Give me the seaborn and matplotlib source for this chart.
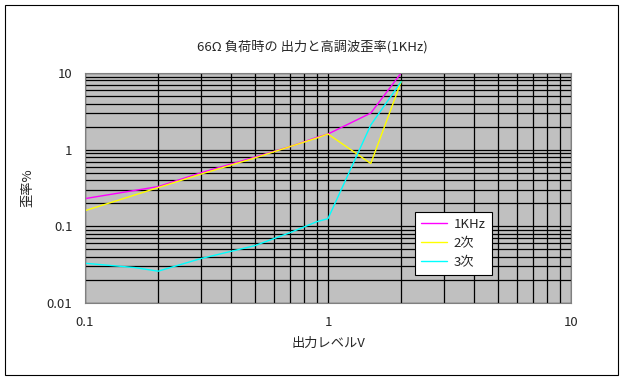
import pandas as pd
import seaborn as sns
import matplotlib.pyplot as plt
from matplotlib.patches import Rectangle

# readings (output level V vs distortion %)
x_1k = [0.1, 0.2, 0.3, 0.5, 0.7, 0.9, 1.0, 1.5, 2.0]
y_1k = [0.23, 0.33, 0.5, 0.8, 1.1, 1.45, 1.6, 3.0, 10.0]
x_2nd = [0.1, 0.2, 0.3, 0.5, 0.7, 0.9, 1.0, 1.5, 2.0]
y_2nd = [0.16, 0.32, 0.48, 0.78, 1.1, 1.42, 1.6, 0.66, 7.7]
x_3rd = [0.1, 0.16, 0.2, 0.3, 0.5, 0.7, 0.9, 1.0, 1.5, 2.0]
y_3rd = [0.033, 0.029, 0.026, 0.038, 0.056, 0.083, 0.115, 0.126, 2.1, 7.7]
series = ["1KHz", "2次", "3次"]
colors = ["#FF00FF", "#FFFF00", "#00FFFF"]

df = pd.concat([
    pd.DataFrame({"x": x_1k, "y": y_1k, "s": series[0]}),
    pd.DataFrame({"x": x_2nd, "y": y_2nd, "s": series[1]}),
    pd.DataFrame({"x": x_3rd, "y": y_3rd, "s": series[2]}),
])

sns.set_style("white")
plt.rcParams['font.family'] = ['Noto Sans CJK JP', 'DejaVu Sans']

fig = plt.figure(figsize=(6.24, 3.81), dpi=100)
ax = fig.add_axes([85/624, 1-303/381, 486/624, 230/381])
ax.set_facecolor("#C0C0C0")

sns.lineplot(data=df, x="x", y="y", hue="s", hue_order=series,
             palette=colors, linewidth=1, sort=False, ax=ax)

ax.set_xscale("log")
ax.set_yscale("log")
ax.set_xlim(0.1, 10)
ax.set_ylim(0.01, 10)
ax.set_xticks([0.1, 1, 10])
ax.set_xticklabels(["0.1", "1", "10"])
ax.set_yticks([0.01, 0.1, 1, 10])
ax.set_yticklabels(["0.01", "0.1", "1", "10"])
ax.grid(True, which="both", color="black", linewidth=0.9)
ax.set_axisbelow(True)
ax.tick_params(which="both", length=0, labelsize=9.5, pad=9)
for sp in ax.spines.values():
    sp.set_color("#808080")
    sp.set_linewidth(0.8)

ax.set_xlabel("出力レベルV", fontsize=9.5, labelpad=6)
ax.set_ylabel("歪率%", fontsize=9.5, labelpad=9)
fig.text(0.5, 1-47/381, "66Ω 負荷時の 出力と高調波歪率(1KHz)",
         ha="center", va="center", fontsize=9.5)

leg = ax.legend(loc="upper left", bbox_to_anchor=(330/486, 1-139/230),
                frameon=True, fancybox=False, fontsize=9.5,
                handlelength=2.0, handletextpad=0.5, borderpad=0.45,
                labelspacing=0.45, borderaxespad=0)
leg.get_frame().set_edgecolor("black")
leg.get_frame().set_facecolor("white")
leg.get_frame().set_alpha(1)
leg.get_frame().set_linewidth(0.8)

fig.patches.append(Rectangle((5/624, 6/381), 613/624, 370/381,
                             transform=fig.transFigure, fill=False,
                             edgecolor="black", linewidth=0.8))

plt.savefig("out.png", dpi=100)
